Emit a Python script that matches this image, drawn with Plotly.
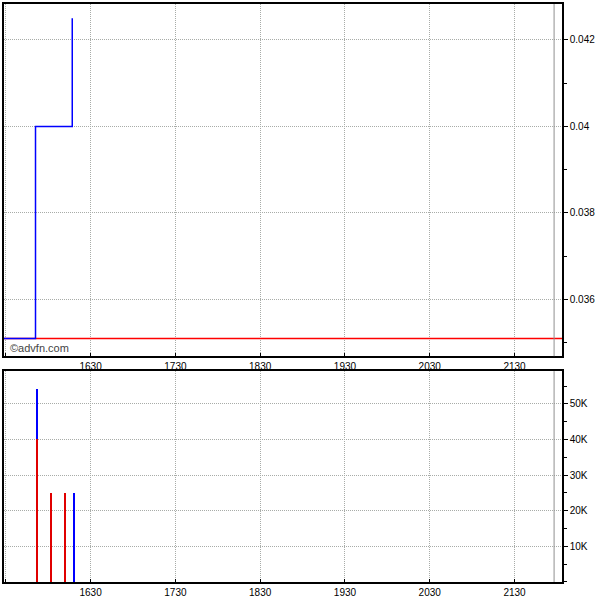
import plotly.graph_objects as go

# ---- data ----
day = "2024-01-02 "
price_times = ["15:28", "15:51", "16:17"]
price_values = [0.0351, 0.0400, 0.0425]

prev_close_times = ["15:28", "22:04"]
prev_close_values = [0.0351, 0.0351]

vol_times = ["15:52", "16:02", "16:12", "16:18"]
vol_down = [40000, 25000, 25000, 0]
vol_up = [14200, 0, 0, 25000]

session_end = "21:58"

price_ticks = [0.036, 0.038, 0.040, 0.042]
price_ticktext = ["0.036", "0.038", "0.04", "0.042"]
vol_ticks = [10000, 20000, 30000, 40000, 50000]
vol_ticktext = ["10K", "20K", "30K", "40K", "50K"]

x_start, x_end = "15:28.7", "22:03.6"

def t(s):
    if "." in s:
        hm, frac = s.split(".")
        sec = int(round(float("0." + frac) * 60))
        return f"{day}{hm}:{sec:02d}"
    return day + s + ":00"

fig = go.Figure()

fig.add_trace(go.Scatter(x=[t(s) for s in prev_close_times], y=prev_close_values,
                         mode="lines", line=dict(color="#ff0000", width=1.5),
                         xaxis="x", yaxis="y", hoverinfo="skip"))
fig.add_trace(go.Scatter(x=[t(s) for s in price_times], y=price_values,
                         mode="lines", line=dict(color="#0000ff", width=1.5, shape="hv"),
                         xaxis="x", yaxis="y"))

fig.add_trace(go.Bar(x=[t(s) for s in vol_times], y=vol_down, marker=dict(color="#e00000", line=dict(width=0)),
                     width=48000, xaxis="x2", yaxis="y2"))
fig.add_trace(go.Bar(x=[t(s) for s in vol_times], y=vol_up, marker=dict(color="#0000ff", line=dict(width=0)),
                     width=48000, xaxis="x2", yaxis="y2"))

grid = dict(showgrid=True, gridcolor="#a8aca8", griddash="1px,1px", gridwidth=1)
frame = dict(showline=True, linecolor="black", linewidth=1.5, mirror=True)
font = dict(family="Liberation Sans Narrow, Arial Narrow, Liberation Sans, Arial, sans-serif", size=10, color="black")

xcommon = dict(type="date", range=[t(x_start), t(x_end)], tickformat="%H%M",
               tick0=t("16:30"), dtick=3600000, ticks="inside", ticklen=3,
               tickcolor="black", tickfont=font, zeroline=False, **grid, **frame)

fig.update_layout(
    width=600, height=600,
    margin=dict(l=2, r=38, t=2, b=17),
    paper_bgcolor="white", plot_bgcolor="white",
    showlegend=False, barmode="stack", bargap=0,
    xaxis=dict(domain=[0, 1], anchor="y", **xcommon),
    xaxis2=dict(domain=[0, 1], anchor="y2", **xcommon),
    yaxis=dict(domain=[0.3907, 1.0], side="right", range=[0.03469, 0.04283],
               tickvals=price_ticks, ticktext=price_ticktext, ticks="outside", ticklen=4,
               tickcolor="black", tickfont=font, zeroline=False,
               minor=dict(dtick=0.001, tick0=0.035, ticks="outside", ticklen=3, tickcolor="black", showgrid=False),
               **grid, **frame),
    yaxis2=dict(domain=[0, 0.3649], side="right", range=[0, 59200],
                tickvals=vol_ticks, ticktext=vol_ticktext, ticks="outside", ticklen=4,
                tickcolor="black", tickfont=font, zeroline=False,
                minor=dict(dtick=5000, tick0=0, ticks="outside", ticklen=3, tickcolor="black", showgrid=False),
                **grid, **frame),
)

for yref in ["y", "y2"]:
    fig.add_shape(type="line", xref="x" if yref == "y" else "x2", yref=f"{yref} domain",
                  x0=t(session_end), x1=t(session_end), y0=0, y1=1,
                  line=dict(color="#909090", width=1))

fig.add_annotation(text="©advfn.com", xref="paper", yref="paper", x=0.008, y=0.3907,
                   xanchor="left", yanchor="bottom", showarrow=False,
                   font=dict(family="Liberation Sans, Arial, sans-serif", size=11, color="#444444"))

fig.write_html("out.html", config={"displayModeBar": False},
               post_script="document.body.style.margin='0';")
